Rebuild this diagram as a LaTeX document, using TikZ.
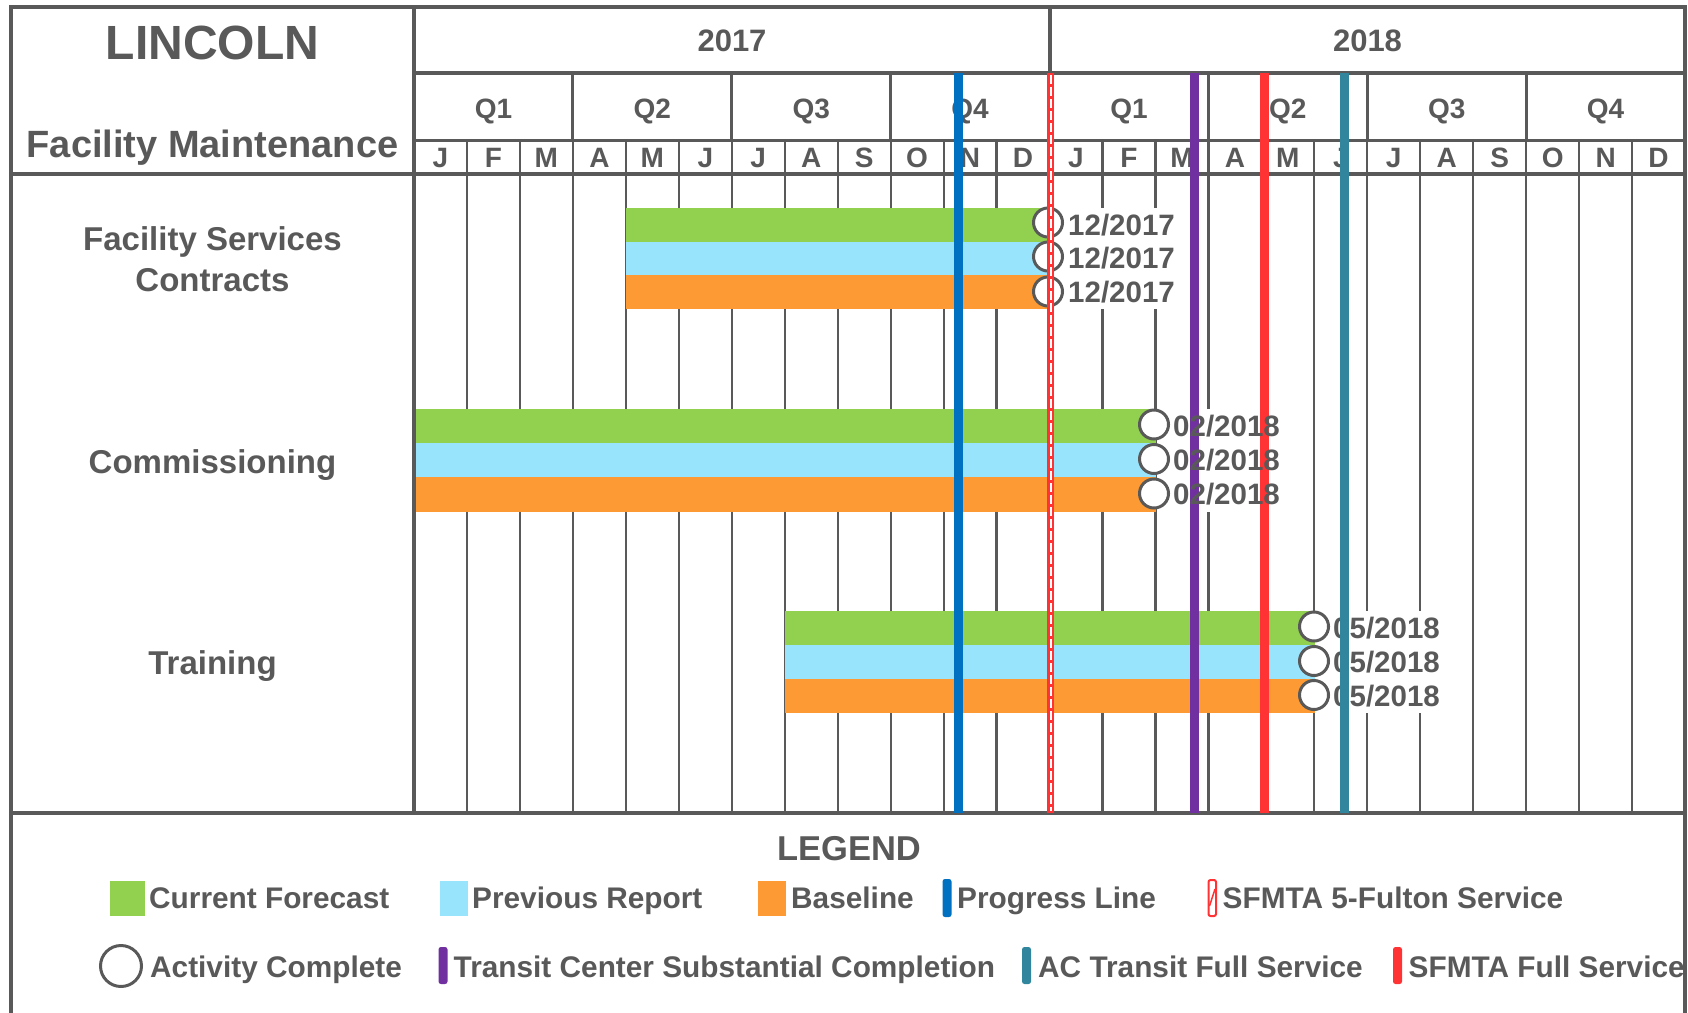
\documentclass[tikz,border=0pt]{standalone}
\usepackage{fontspec}
\setmainfont{Liberation Sans}
\definecolor{gr}{HTML}{595959}
\definecolor{fcgreen}{HTML}{92D050}
\definecolor{prblue}{HTML}{99E4FD}
\definecolor{blorange}{HTML}{FD9A33}
\definecolor{progblue}{HTML}{0070C0}
\definecolor{tcpurple}{HTML}{7030A0}
\definecolor{sfred}{HTML}{FF3333}
\definecolor{acteal}{HTML}{31859C}
\begin{document}
\begin{tikzpicture}[x=1pt,y=-1pt,
  frameline/.style={draw=gr,line width=4},
  gridline/.style={draw=gr,line width=2.2},
  qline/.style={draw=gr,line width=3},
  txt/.style={text=gr,inner sep=0,font=\bfseries\fontsize{#1}{#1}\selectfont},
  hdr/.style={txt=#1,anchor=base},
  datelbl/.style={txt=29.5,anchor=west,minimum height=33.8,inner xsep=1},
  donecircle/.style={circle,draw=gr,line width=3,fill=white,minimum size=29,inner sep=0},
  milestone/.style={line width=9},
  legbar/.style={rounded corners=2.5},
  legtxt/.style={txt=29.8,anchor=base west}
]
\path[use as bounding box] (0,0) rectangle (1688,1012);
\clip (0,0) rectangle (1688,1012);
\def\mw{52.96}

% ---------- grid ----------
\foreach \i in {1,...,23}
  \draw[gridline] ({414+\i*\mw},140) -- ({414+\i*\mw},813);
\foreach \i in {3,6,9,15,18,21}
  \draw[qline] ({414+\i*\mw},73) -- ({414+\i*\mw},140);
\draw[frameline] (1050,7) -- (1050,140);

% ---------- frame ----------
\draw[frameline] (11,7) rectangle (1685,1030);
\draw[frameline] (414,73) -- (1685,73);
\draw[qline] (414,140) -- (1685,140);
\draw[frameline] (11,174) -- (1685,174);
\draw[frameline] (11,813) -- (1685,813);
\draw[frameline] (414,7) -- (414,813);

% ---------- header texts ----------
\node[hdr=48] (title) at (212.5,59) {LINCOLN};
\node[hdr=38] (subtitle) at (212.5,157) {Facility Maintenance};
\node[hdr=31] (y2017) at (732,51) {2017};
\node[hdr=31] (y2018) at (1367.5,51) {2018};
\foreach \q [count=\i from 0] in {Q1,Q2,Q3,Q4,Q1,Q2,Q3,Q4}
  \node[hdr=28] (q\i) at ({414+(3*\i+1.5)*\mw},118) {\q};
\foreach \m [count=\i from 0] in {J,F,M,A,M,J,J,A,S,O,N,D,J,F,M,A,M,J,J,A,S,O,N,D}
  \node[hdr=28] (m\i) at ({414+(\i+0.5)*\mw},167) {\m};

% ---------- row labels ----------
\node[hdr=33] (fs1) at (212.5,250) {Facility Services};
\node[hdr=33] (fs2) at (212.5,291) {Contracts};
\node[hdr=33] (comm) at (212.5,473) {Commissioning};
\node[hdr=33] (train) at (212.5,674) {Training};

% ---------- bars ----------
% group 1: May 2017 - Dec 2017
\fill[fcgreen] (626,208) rectangle (1050,241.7);
\fill[prblue] (626,241.7) rectangle (1050,275.4);
\fill[blorange] (626,275.4) rectangle (1050,309.1);
% group 2: Jan 2017 - Feb 2018
\fill[fcgreen] (416,409) rectangle (1156,443);
\fill[prblue] (416,443) rectangle (1156,477);
\fill[blorange] (416,477) rectangle (1156,511.5);
% group 3: Aug 2017 - May 2018
\fill[fcgreen] (785,611) rectangle (1315,645);
\fill[prblue] (785,645) rectangle (1315,679);
\fill[blorange] (785,679) rectangle (1315,713);

% ---------- white backgrounds of the date labels ----------
\fill[white] (1066,208) rectangle (1175,309);
\fill[white] (1171,409) rectangle (1281,512);
\fill[white] (1331,611) rectangle (1441,713);

% ---------- completion circles ----------
\node[donecircle] (c1a) at (1048,222.5) {};
\node[donecircle] (c1b) at (1048,256.5) {};
\node[donecircle] (c1c) at (1048,291.5) {};
\node[donecircle] (c2a) at (1154,424.5) {};
\node[donecircle] (c2b) at (1154,459) {};
\node[donecircle] (c2c) at (1154,493.5) {};
\node[donecircle] (c3a) at (1314,626.5) {};
\node[donecircle] (c3b) at (1314,661) {};
\node[donecircle] (c3c) at (1314,695) {};

% ---------- milestone lines ----------
\draw[milestone,progblue] (958,73) -- (958,813);
\draw[sfred,line width=7.5] (1050.5,73) -- (1050.5,813);
\draw[white,line width=2,dash pattern=on 9 off 3] (1050.5,75) -- (1050.5,811);
\draw[milestone,tcpurple] (1194.5,73) -- (1194.5,813);
\draw[milestone,sfred] (1264,73) -- (1264,813);

% ---------- date labels ----------
\node[datelbl] (d1a) at (1067,224.8) {12/2017};
\node[datelbl] (d1b) at (1067,258.5) {12/2017};
\node[datelbl] (d1c) at (1067,292.2) {12/2017};
\node[datelbl] (d2a) at (1172,426) {02/2018};
\node[datelbl] (d2b) at (1172,460) {02/2018};
\node[datelbl] (d2c) at (1172,494.2) {02/2018};
\node[datelbl] (d3a) at (1332,628) {05/2018};
\node[datelbl] (d3b) at (1332,662) {05/2018};
\node[datelbl] (d3c) at (1332,696) {05/2018};

\draw[milestone,acteal] (1344.5,73) -- (1344.5,813);

% ---------- legend ----------
\node[hdr=34.5] (legend) at (849,860) {LEGEND};
\fill[fcgreen] (110,881) rectangle (145,916);
\node[legtxt] (l1) at (149,908) {Current Forecast};
\fill[prblue] (440,881) rectangle (468,916);
\node[legtxt] (l2) at (472,908) {Previous Report};
\fill[blorange] (758,881) rectangle (786,916);
\node[legtxt] (l3) at (791,908) {Baseline};
\fill[progblue,legbar] (942.5,879) rectangle (951.5,917);
\node[legtxt] (l4) at (957,908) {Progress Line};
\draw[sfred,line width=2,fill=white,rounded corners=2] (1208.5,880) rectangle (1216,916);
\draw[sfred,line width=1.5] (1209.5,906) -- (1215,889);
\node[legtxt] (l5) at (1222.5,908) {SFMTA 5-Fulton Service};

\node[donecircle,minimum size=41] (lc) at (121,966) {};
\node[legtxt] (l6) at (150,977) {Activity Complete};
\fill[tcpurple,legbar] (438.5,947) rectangle (447.5,984);
\node[legtxt] (l7) at (453.5,977) {Transit Center Substantial Completion};
\fill[acteal,legbar] (1022,947) rectangle (1031,984);
\node[legtxt] (l8) at (1038,977) {AC Transit Full Service};
\fill[sfred,legbar] (1393,947) rectangle (1402,984);
\node[legtxt] (l9) at (1408.5,977) {SFMTA Full Service};
\end{tikzpicture}
\end{document}
